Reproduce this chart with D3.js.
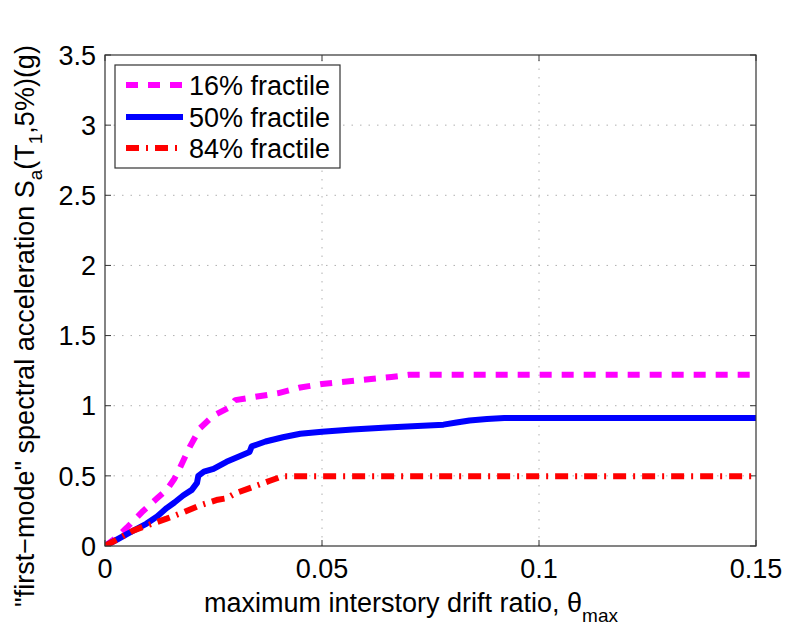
<!DOCTYPE html>
<html>
<head>
<meta charset="utf-8">
<script src="https://cdn.jsdelivr.net/npm/d3@7"></script>
<style>
  html, body { margin: 0; padding: 0; background: #fff; }
  text { font-family: "Liberation Sans", Arial, Helvetica, sans-serif; fill: #000; }
</style>
</head>
<body>
<svg id="chart" width="785" height="632"></svg>
<script>
// ---- data ----
const xTicks = [0, 0.05, 0.1, 0.15];
const xTickLabels = ["0", "0.05", "0.1", "0.15"];
const yTicks = [0, 0.5, 1, 1.5, 2, 2.5, 3, 3.5];
const yTickLabels = ["0", "0.5", "1", "1.5", "2", "2.5", "3", "3.5"];
const seriesNames = ["16% fractile", "50% fractile", "84% fractile"];

const frac16 = [[0,0],[0.003,0.07],[0.005,0.13],[0.0088,0.25],[0.012,0.34],[0.0142,0.40],[0.016,0.48],[0.0173,0.56],[0.0196,0.71],[0.0219,0.84],[0.025,0.93],[0.0288,0.99],[0.030,1.04],[0.034,1.06],[0.040,1.09],[0.045,1.13],[0.050,1.155],[0.058,1.18],[0.066,1.205],[0.070,1.22],[0.15,1.22]];
const frac50 = [[0,0],[0.003,0.05],[0.006,0.10],[0.0096,0.16],[0.012,0.21],[0.0142,0.27],[0.016,0.31],[0.018,0.36],[0.020,0.40],[0.0212,0.45],[0.0215,0.50],[0.0228,0.53],[0.025,0.55],[0.028,0.60],[0.031,0.64],[0.0333,0.67],[0.0338,0.71],[0.037,0.745],[0.041,0.775],[0.045,0.80],[0.050,0.815],[0.057,0.83],[0.065,0.845],[0.072,0.855],[0.078,0.865],[0.081,0.88],[0.084,0.895],[0.088,0.905],[0.092,0.912],[0.15,0.912]];
const frac84 = [[0,0],[0.003,0.05],[0.0065,0.11],[0.010,0.15],[0.0142,0.195],[0.018,0.24],[0.0219,0.29],[0.026,0.33],[0.028,0.34],[0.030,0.375],[0.034,0.42],[0.038,0.465],[0.041,0.498],[0.15,0.498]];

// ---- layout ----
const svg = d3.select("#chart");
const L = 105, R = 756, T = 55, B = 546;
const x = d3.scaleLinear().domain([0, 0.15]).range([L, R]);
const y = d3.scaleLinear().domain([0, 3.5]).range([B, T]);
const FS = 27, SFS = 19;

svg.append("defs").append("clipPath").attr("id", "clip")
  .append("rect").attr("x", L).attr("y", T).attr("width", R - L).attr("height", B - T);

// grid
const grid = svg.append("g").attr("stroke", "#b0b0b0").attr("stroke-width", 1).attr("stroke-dasharray", "1.5,7");
xTicks.slice(1, -1).forEach(v => grid.append("line").attr("x1", x(v)).attr("x2", x(v)).attr("y1", B).attr("y2", T));
yTicks.slice(1, -1).forEach(v => grid.append("line").attr("y1", y(v)).attr("y2", y(v)).attr("x1", L).attr("x2", R));

// ticks (inward, all four sides)
const tk = 6;
const ticks = svg.append("g").attr("stroke", "#333").attr("stroke-width", 1);
xTicks.forEach(v => {
  ticks.append("line").attr("x1", x(v)).attr("x2", x(v)).attr("y1", B).attr("y2", B - tk);
  ticks.append("line").attr("x1", x(v)).attr("x2", x(v)).attr("y1", T).attr("y2", T + tk);
});
yTicks.forEach(v => {
  ticks.append("line").attr("y1", y(v)).attr("y2", y(v)).attr("x1", L).attr("x2", L + tk);
  ticks.append("line").attr("y1", y(v)).attr("y2", y(v)).attr("x1", R).attr("x2", R - tk);
});

// tick labels
xTicks.forEach((v, i) => svg.append("text").attr("x", x(v)).attr("y", 578)
  .attr("text-anchor", "middle").attr("font-size", FS).text(xTickLabels[i]));
yTicks.forEach((v, i) => svg.append("text").attr("x", 96).attr("y", y(v)).attr("dy", "0.36em")
  .attr("text-anchor", "end").attr("font-size", FS).text(yTickLabels[i]));

// lines
const line = d3.line().x(d => x(d[0])).y(d => y(d[1]));
const styles = [
  { data: frac16, color: "#ff00ff", dash: "12,10" },
  { data: frac50, color: "#0000ff", dash: null },
  { data: frac84, color: "#ff0000", dash: "13,7,2,7" }
];
const plot = svg.append("g").attr("clip-path", "url(#clip)");
styles.forEach(s => {
  plot.append("path").datum(s.data).attr("d", line)
    .attr("fill", "none").attr("stroke", s.color).attr("stroke-width", 6)
    .attr("stroke-linejoin", "round")
    .attr("stroke-dasharray", s.dash);
});

// box
svg.append("rect").attr("x", L).attr("y", T).attr("width", R - L).attr("height", B - T)
  .attr("fill", "none").attr("stroke", "#333").attr("stroke-width", 1.2);

// legend
const lg = svg.append("g");
lg.append("rect").attr("x", 115).attr("y", 65).attr("width", 225).attr("height", 103)
  .attr("fill", "#fff").attr("stroke", "#333").attr("stroke-width", 1.2);
const rowsY = [85, 117, 148];
styles.forEach((s, i) => {
  lg.append("line").attr("x1", 126).attr("x2", 183).attr("y1", rowsY[i]).attr("y2", rowsY[i])
    .attr("stroke", s.color).attr("stroke-width", 6).attr("stroke-dasharray", s.dash);
  lg.append("text").attr("x", 189).attr("y", rowsY[i]).attr("dy", "0.36em")
    .attr("font-size", FS).text(seriesNames[i]);
});

// x label
const xl = svg.append("text").attr("x", 411).attr("y", 612).attr("text-anchor", "middle").attr("font-size", FS);
xl.append("tspan").text("maximum interstory drift ratio, \u03B8");
xl.append("tspan").attr("font-size", SFS).attr("dy", 10).text("max");

// y label
const yl = svg.append("text").attr("transform", "translate(34,326) rotate(-90)")
  .attr("text-anchor", "middle").attr("font-size", FS);
yl.append("tspan").text("\"first\u2212mode\" spectral acceleration S");
yl.append("tspan").attr("font-size", SFS).attr("dy", 8).text("a");
yl.append("tspan").attr("dy", -8).text("(T");
yl.append("tspan").attr("font-size", SFS).attr("dy", 8).text("1");
yl.append("tspan").attr("dy", -8).text(",5%)(g)");
</script>
</body>
</html>
